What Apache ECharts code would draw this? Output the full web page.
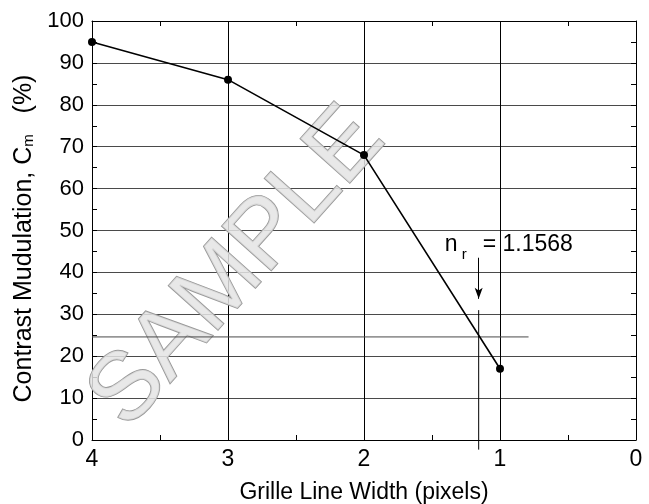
<!DOCTYPE html>
<html>
<head>
<meta charset="utf-8">
<script src="https://cdn.jsdelivr.net/npm/echarts@6/dist/echarts.min.js"></script>
<style>
  html, body { margin: 0; padding: 0; background: #fff; }
  #chart { width: 649px; height: 504px; }
</style>
</head>
<body>
<div id="chart"></div>
<script>
// Measured contrast modulation vs. grille line width
const lineWidths = [4, 3, 2, 1];
const contrast = [95, 86, 68, 17];

// Axis ranges and tick steps
const xRange = [0, 4];
const xStep = 1;
const yRange = [0, 100];
const yStep = 10;

// Threshold construction for the resolution estimate
const thresholdLevel = 24.6;
const thresholdSpan = [4, 0.79];
const resolvedWidth = 1.1568;
const dropSpan = [31, -2.3];
const arrowSpan = [43.5, 33.7];
const resolvedLabel = '= 1.1568';

const FONT = '"Liberation Sans", Arial, sans-serif';
const chart = echarts.init(document.getElementById('chart'), null, { renderer: 'canvas' });

const mainData = lineWidths.map((w, i) => [w, contrast[i]]);

function xAxisBase(pos, labels) {
  return {
    type: 'value', position: pos, inverse: true,
    min: xRange[0], max: xRange[1], interval: xStep,
    axisLine: { show: true, onZero: false, lineStyle: { color: '#000', width: 1 } },
    axisTick: { show: true, inside: true, length: 5, lineStyle: { color: '#000' } },
    minorTick: { show: true, splitNumber: 2, length: 5, lineStyle: { color: '#000' } },
    axisLabel: { show: labels, color: '#000', fontSize: 23, fontFamily: FONT, margin: 8 },
    splitLine: { show: labels, lineStyle: { color: '#000', width: 1 } },
    minorSplitLine: { show: false }
  };
}
function yAxisBase(pos, labels) {
  return {
    type: 'value', position: pos,
    min: yRange[0], max: yRange[1], interval: yStep,
    axisLine: { show: true, onZero: false, lineStyle: { color: '#000', width: 1 } },
    axisTick: { show: true, inside: true, length: 5, lineStyle: { color: '#000' } },
    minorTick: { show: true, splitNumber: 2, length: 5, lineStyle: { color: '#000' } },
    axisLabel: { show: labels, color: '#000', fontSize: 22, fontFamily: FONT, margin: 8 },
    splitLine: { show: labels, lineStyle: { color: '#4a4a4a', width: 1 } },
    minorSplitLine: { show: false }
  };
}

const xBottom = Object.assign(xAxisBase('bottom', true), {
  name: 'Grille Line Width (pixels)', nameLocation: 'middle', nameGap: 41,
  nameTextStyle: { color: '#000', fontSize: 23, fontFamily: FONT }
});
const yLeft = Object.assign(yAxisBase('left', true), {
  name: '{a|Contrast Mudulation, C}{s|m}{a|   (%)}', nameLocation: 'middle', nameGap: 54,
  nameTextStyle: {
    color: '#000', fontSize: 25, fontFamily: FONT, padding: [0, 16, 0, 0],
    rich: {
      a: { fontSize: 25, fontFamily: FONT, color: '#000', lineHeight: 28, verticalAlign: 'bottom' },
      s: { fontSize: 15, fontFamily: FONT, color: '#000', lineHeight: 28, verticalAlign: 'bottom' }
    }
  }
});

chart.setOption({
  animation: false,
  backgroundColor: '#fff',
  grid: { left: 92, right: 13, top: 21, bottom: 64, containLabel: false, outerBoundsMode: 'none' },
  xAxis: [xBottom, xAxisBase('top', false)],
  yAxis: [yLeft, yAxisBase('right', false)],
  series: [
    {
      type: 'line', data: mainData, xAxisIndex: 0, yAxisIndex: 0,
      symbol: 'circle', symbolSize: 8, showSymbol: true, clip: false, z: 10,
      itemStyle: { color: '#000' }, lineStyle: { color: '#000', width: 1.6 }
    },
    {
      type: 'line', data: [[thresholdSpan[0], thresholdLevel], [thresholdSpan[1], thresholdLevel]],
      symbol: 'none', z: 6, lineStyle: { color: '#4a4a4a', width: 1 }
    },
    {
      type: 'line', data: [[resolvedWidth, dropSpan[0]], [resolvedWidth, dropSpan[1]]],
      symbol: 'none', clip: false, z: 6, lineStyle: { color: '#000', width: 1 },
      markLine: {
        silent: true, symbol: ['none', 'arrow'], symbolSize: [6, 11],
        label: { show: false },
        lineStyle: { color: '#000', width: 1, type: 'solid' },
        data: [[{ coord: [resolvedWidth, arrowSpan[0]] }, { coord: [resolvedWidth, arrowSpan[1]] }]]
      }
    }
  ]
});

// Annotation text and watermark, anchored to the arrow's start point
const anchor = chart.convertToPixel({ xAxisIndex: 0, yAxisIndex: 0 }, [resolvedWidth, arrowSpan[0]]);
const center = chart.convertToPixel({ xAxisIndex: 0, yAxisIndex: 0 }, [2.93, 41]);
chart.setOption({
  graphic: [
    {
      type: 'text', z: 3, rotation: 0.84, x: center[0], y: center[1],
      style: {
        text: 'SAMPLE', font: '96px ' + FONT, fill: 'rgba(228,228,228,0.85)',
        stroke: '#999', lineWidth: 1.8, align: 'center', verticalAlign: 'middle'
      }
    },
    {
      type: 'text', z: 20, x: anchor[0] - 34, y: anchor[1] - 13,
      style: { text: 'n', font: '23px ' + FONT, fill: '#000', align: 'left', verticalAlign: 'middle' }
    },
    {
      type: 'text', z: 20, x: anchor[0] - 17, y: anchor[1] - 3,
      style: { text: 'r', font: '15px ' + FONT, fill: '#000', align: 'left', verticalAlign: 'middle' }
    },
    {
      type: 'text', z: 20, x: anchor[0] + 4, y: anchor[1] - 13,
      style: { text: resolvedLabel, font: '23px ' + FONT, fill: '#000', align: 'left', verticalAlign: 'middle' }
    }
  ]
});
</script>
</body>
</html>
